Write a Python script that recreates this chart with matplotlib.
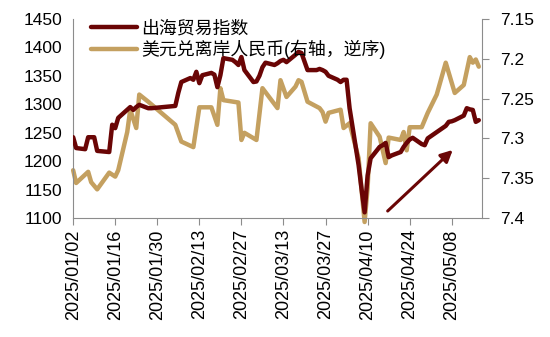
import numpy as np
import pandas as pd
import matplotlib
matplotlib.use("Agg")
import matplotlib.pyplot as plt
import matplotlib.dates as mdates
from matplotlib.ticker import FuncFormatter

plt.rcParams['font.family'] = ['Liberation Sans', 'Noto Sans CJK SC']
plt.rcParams['axes.unicode_minus'] = False

# 出海贸易指数 (left axis)
idx_dates = ['2025-01-02', '2025-01-03', '2025-01-06', '2025-01-07', '2025-01-09', '2025-01-10',
             '2025-01-14', '2025-01-15', '2025-01-16', '2025-01-17', '2025-01-21', '2025-01-22',
             '2025-01-23', '2025-01-24', '2025-01-27', '2025-01-28', '2025-02-05', '2025-02-06',
             '2025-02-07', '2025-02-10', '2025-02-11', '2025-02-12', '2025-02-13', '2025-02-14',
             '2025-02-17', '2025-02-18', '2025-02-19', '2025-02-20', '2025-02-21', '2025-02-24',
             '2025-02-25', '2025-02-26', '2025-02-27', '2025-02-28', '2025-03-03', '2025-03-04',
             '2025-03-05', '2025-03-06', '2025-03-07', '2025-03-10', '2025-03-11', '2025-03-12',
             '2025-03-13', '2025-03-14', '2025-03-17', '2025-03-18', '2025-03-19', '2025-03-20',
             '2025-03-21', '2025-03-24', '2025-03-25', '2025-03-26', '2025-03-27', '2025-03-28',
             '2025-03-31', '2025-04-01', '2025-04-02', '2025-04-03', '2025-04-04', '2025-04-07',
             '2025-04-08', '2025-04-09', '2025-04-10', '2025-04-11', '2025-04-14', '2025-04-15',
             '2025-04-16', '2025-04-17', '2025-04-18', '2025-04-21', '2025-04-22', '2025-04-23',
             '2025-04-24', '2025-04-25', '2025-04-28', '2025-04-29', '2025-04-30', '2025-05-06',
             '2025-05-07', '2025-05-08', '2025-05-09', '2025-05-12', '2025-05-13', '2025-05-14',
             '2025-05-15', '2025-05-16', '2025-05-17']
idx_values = [1242, 1223, 1221, 1242, 1242, 1218,
              1216, 1264, 1258, 1276, 1295, 1290,
              1295, 1299, 1293, 1293, 1297, 1320,
              1339, 1346, 1343, 1357, 1337, 1351,
              1355, 1352, 1330, 1351, 1381, 1378,
              1374, 1369, 1383, 1360, 1339, 1340,
              1350, 1365, 1373, 1369, 1372, 1376,
              1378, 1374, 1387, 1392, 1390, 1375,
              1360, 1360, 1362, 1360, 1357, 1350,
              1343, 1339, 1343, 1343, 1293, 1193,
              1150, 1110, 1175, 1205, 1225, 1228,
              1232, 1207, 1210, 1216, 1225, 1232,
              1238, 1241, 1230, 1228, 1240, 1262,
              1269, 1270, 1272, 1280, 1293, 1291,
              1290, 1269, 1272]

# 美元兑离岸人民币 (right axis, inverted)
fx_dates = ['2025-01-02', '2025-01-03', '2025-01-07', '2025-01-08', '2025-01-10', '2025-01-14',
            '2025-01-16', '2025-01-17', '2025-01-20', '2025-01-21', '2025-01-23', '2025-01-24',
            '2025-01-27', '2025-02-05', '2025-02-07', '2025-02-11', '2025-02-13', '2025-02-17',
            '2025-02-19', '2025-02-20', '2025-02-21', '2025-02-26', '2025-02-27', '2025-02-28',
            '2025-03-04', '2025-03-06', '2025-03-07', '2025-03-11', '2025-03-12', '2025-03-14',
            '2025-03-17', '2025-03-18', '2025-03-19', '2025-03-21', '2025-03-25', '2025-03-26',
            '2025-03-27', '2025-03-28', '2025-04-01', '2025-04-02', '2025-04-04', '2025-04-07',
            '2025-04-09', '2025-04-10', '2025-04-11', '2025-04-14', '2025-04-16', '2025-04-17',
            '2025-04-21', '2025-04-22', '2025-04-23', '2025-04-24', '2025-04-28', '2025-04-30',
            '2025-05-03', '2025-05-06', '2025-05-09', '2025-05-12', '2025-05-14', '2025-05-15',
            '2025-05-16', '2025-05-17']
fx_values = [7.340, 7.356, 7.342, 7.355, 7.364, 7.343,
             7.348, 7.340, 7.292, 7.264, 7.287, 7.245,
             7.254, 7.283, 7.304, 7.311, 7.261, 7.261,
             7.283, 7.237, 7.252, 7.255, 7.302, 7.293,
             7.302, 7.237, 7.242, 7.262, 7.227, 7.248,
             7.235, 7.227, 7.229, 7.254, 7.262, 7.267,
             7.279, 7.268, 7.264, 7.287, 7.281, 7.325,
             7.405, 7.362, 7.281, 7.298, 7.331, 7.299,
             7.302, 7.292, 7.315, 7.286, 7.286, 7.268,
             7.245, 7.205, 7.243, 7.233, 7.198, 7.205,
             7.201, 7.210]

idx_dates = pd.to_datetime(idx_dates)
fx_dates = pd.to_datetime(fx_dates)

red = '#6A0505'
gold = '#C4A060'
grey = '#8C8C8C'

fig = plt.figure(figsize=(5.5, 3.37), dpi=100)
ax = fig.add_axes([0.133, 0.353, 0.743, 0.591])
ax2 = ax.twinx()

line_kw = dict(lw=3.2, solid_joinstyle='round', solid_capstyle='round')
l1, = ax.plot(idx_dates, idx_values, color=red, zorder=3, **line_kw)
l2, = ax2.plot(fx_dates, fx_values, color=gold, clip_on=False, **line_kw)

# keep the index line above the fx line
ax.set_zorder(ax2.get_zorder() + 1)
ax.patch.set_visible(False)

ax.set_ylim(1100, 1450)
ax.set_yticks(np.arange(1100, 1451, 50))
ax2.set_ylim(7.4, 7.15)
ax2.set_yticks([7.15, 7.2, 7.25, 7.3, 7.35, 7.4])
ax2.yaxis.set_major_formatter(FuncFormatter(lambda v, p: f'{v:g}'))

start = pd.Timestamp('2025-01-02')
ax.set_xlim(start, pd.Timestamp('2025-05-18'))
ax.set_xticks(pd.date_range(start, '2025-05-08', freq='14D'))
ax.xaxis.set_major_formatter(mdates.DateFormatter('%Y/%m/%d'))
for lab in ax.get_xticklabels():
    lab.set_rotation(90)

ax.tick_params(axis='x', labelsize=13, length=5, color=grey, pad=3)
ax.tick_params(axis='y', labelsize=12.5, length=0, pad=8)
ax2.tick_params(axis='y', labelsize=12.5, length=5, color=grey, pad=8)

for a in (ax, ax2):
    a.spines['top'].set_visible(False)
    for s in ('left', 'right', 'bottom'):
        a.spines[s].set_color(grey)
ax.spines['right'].set_visible(False)
ax2.spines['left'].set_visible(False)
ax2.spines['bottom'].set_visible(False)

# trend arrow on the rebound
ax.annotate('', xy=(pd.Timestamp('2025-05-09'), 1223), xytext=(pd.Timestamp('2025-04-16'), 1109),
            arrowprops=dict(arrowstyle='-|>,head_length=0.7,head_width=0.35', color=red, lw=2.2),
            annotation_clip=False)

ax.legend([l1, l2], ['出海贸易指数', '美元兑离岸人民币(右轴，逆序)'], loc='upper left',
          bbox_to_anchor=(0.025, 1.03), frameon=False, fontsize=12.9, handlelength=2.6,
          handletextpad=0.25, labelspacing=0.15, borderaxespad=0)

fig.savefig('out.png', dpi=100)
